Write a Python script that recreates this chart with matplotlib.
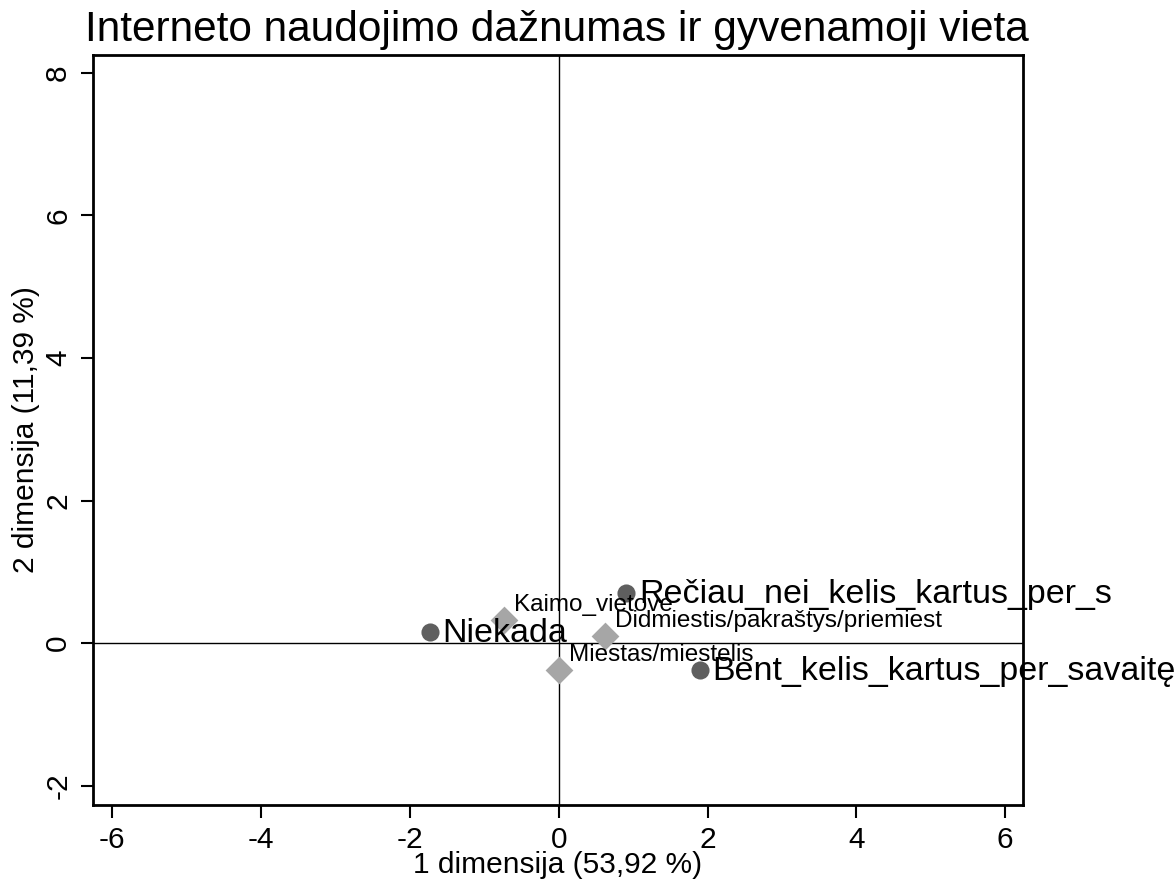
import numpy as np
import matplotlib.pyplot as plt

plt.rcParams['font.family'] = ['Liberation Sans', 'DejaVu Sans']

# row categories (internet use frequency)
row_labels = ['Niekada', 'Rečiau_nei_kelis_kartus_per_s', 'Bent_kelis_kartus_per_savaitę']
row_x = [-1.73, 0.91, 1.90]
row_y = [0.15, 0.70, -0.38]

# column categories (place of residence)
col_labels = ['Kaimo_vietovė', 'Didmiestis/pakraštys/priemiest', 'Miestas/miestelis']
col_x = [-0.73, 0.62, 0.01]
col_y = [0.32, 0.10, -0.38]

xticks = [-6, -4, -2, 0, 2, 4, 6]
yticks = [-2, 0, 2, 4, 6, 8]

fig = plt.figure(figsize=(11.76, 8.81), dpi=100)
ax = fig.add_axes([93 / 1176, 1 - 805 / 881, 930 / 1176, 750 / 881])

ax.axhline(0, color='black', lw=1, zorder=1)
ax.axvline(0, color='black', lw=1, zorder=1)

ax.scatter(row_x, row_y, s=170, marker='o', color='#5f5f5f', zorder=3, linewidths=0)
ax.scatter(col_x, col_y, s=200, marker='D', color='#a6a6a6', zorder=3, linewidths=0)

for lab, x, y in zip(row_labels, row_x, row_y):
    ax.annotate(lab, (x, y), xytext=(9, -1), textcoords='offset points',
                fontsize=24.5, va='center', ha='left', annotation_clip=False, zorder=4)
for lab, x, y in zip(col_labels, col_x, col_y):
    ax.annotate(lab, (x, y), xytext=(7, 11), textcoords='offset points',
                fontsize=17.5, va='center', ha='left', annotation_clip=False, zorder=4)

ax.set_xlim(-6.26, 6.24)
ax.set_ylim(-2.27, 8.25)
ax.set_xticks(xticks)
ax.set_yticks(yticks)
ax.set_xticklabels([str(v) for v in xticks], fontsize=21.5)
ax.set_yticklabels([str(v) for v in yticks], fontsize=21.5, rotation=90, va='center')
ax.tick_params(direction='out', length=9, width=1.5, pad=6)
for sp in ax.spines.values():
    sp.set_linewidth(2)

ax.set_xlabel('1 dimensija (53,92 %)', fontsize=21.5, labelpad=-2)
ax.set_ylabel('2 dimensija (11,39 %)', fontsize=21.5, labelpad=3)
fig.text(85 / 1176, 1 - 30 / 881, 'Interneto naudojimo dažnumas ir gyvenamoji vieta',
         fontsize=30.5, ha='left', va='center')

fig.savefig('out.png', dpi=100)
